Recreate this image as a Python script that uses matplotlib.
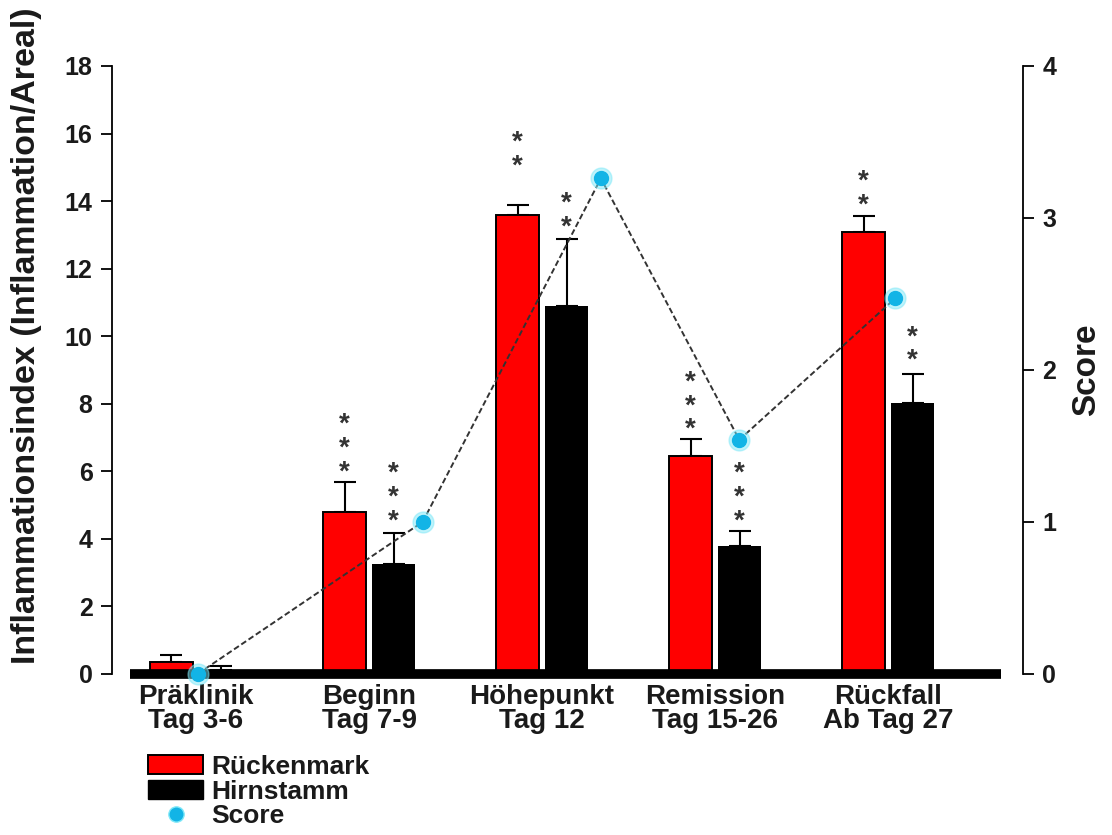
import numpy as np
import matplotlib.pyplot as plt
from matplotlib.patches import Patch
from matplotlib.lines import Line2D

plt.rcParams['font.family'] = ['Liberation Sans', 'DejaVu Sans']
plt.rcParams['font.weight'] = 'bold'

# phases of the disease course
phases = ['Präklinik\nTag 3-6', 'Beginn\nTag 7-9', 'Höhepunkt\nTag 12',
          'Remission\nTag 15-26', 'Rückfall\nAb Tag 27']

# inflammation index, spinal cord (Rückenmark) and brain stem (Hirnstamm)
rm_mean = [0.35, 4.8, 13.6, 6.45, 13.07]
rm_err = [0.22, 0.87, 0.27, 0.5, 0.48]
hs_mean = [0.12, 3.25, 10.9, 3.79, 8.02]
hs_err = [0.1, 0.92, 1.97, 0.44, 0.85]

# significance stars: count and height of the lowest star
rm_stars = [0, 3, 2, 3, 2]
rm_star_y = [0, 6.05, 15.1, 7.3, 13.95]
hs_stars = [0, 3, 2, 3, 2]
hs_star_y = [0, 4.6, 13.3, 4.6, 9.35]

# clinical score, plotted on the right axis
score_x = [0.01, 1.31, 2.34, 3.14, 4.04]
score = [0.0, 1.0, 3.26, 1.54, 2.47]

x = np.arange(len(phases))
w = 0.245
off = 0.142
ink = '#1a1a1a'

fig = plt.figure(figsize=(11.12, 8.35), dpi=100)
ax = fig.add_axes([0.1007, 0.193, 0.8193, 0.728])

ax.bar(x - off, rm_mean, w, color='#ff0000', edgecolor='black', linewidth=1.4, zorder=2)
ax.bar(x + off, hs_mean, w, color='black', edgecolor='black', linewidth=0, zorder=2)
ax.errorbar(x - off, rm_mean, yerr=[np.zeros(5), rm_err], fmt='none', ecolor='black',
            elinewidth=1.5, capsize=8, capthick=1.5, zorder=1)
ax.errorbar(x + off, hs_mean, yerr=[np.zeros(5), hs_err], fmt='none', ecolor='black',
            elinewidth=1.5, capsize=8, capthick=1.5, zorder=1)

for xs, counts, ys in [(x - off, rm_stars, rm_star_y), (x + off, hs_stars, hs_star_y)]:
    for xi, n, yi in zip(xs, counts, ys):
        for k in range(n):
            ax.annotate('*', (xi, yi), xytext=(0, 17 * k - 2), textcoords='offset points',
                        ha='center', va='center', fontsize=20, fontweight='bold',
                        color='#333333')

# thick base line under the bars
ax.plot([-0.38, 4.65], [0, 0], color='black', lw=7, solid_capstyle='butt', zorder=3,
        clip_on=False)

ax.set_xlim(-0.486, 4.78)
ax.set_ylim(0, 18)
ax.set_yticks(np.arange(0, 19, 2))
ax.set_xticks(x)
ax.set_xticklabels(phases, fontsize=20, linespacing=0.92, color=ink)
ax.tick_params(axis='x', length=0, pad=7)
ax.tick_params(axis='y', length=8, width=1.3, labelsize=18, labelcolor=ink, pad=6)
for s in ['top', 'right', 'bottom']:
    ax.spines[s].set_visible(False)
ax.spines['left'].set_linewidth(1.3)
ax.set_ylabel('Inflammationsindex (Inflammation/Areal)', fontsize=24.5, fontweight='bold',
              color=ink)
ax.yaxis.set_label_coords(-0.077, 0.557)

ax2 = ax.twinx()
ax2.plot(score_x, score, linestyle=(0, (3, 1.5)), color='#333333', lw=1.4, zorder=4,
         clip_on=False)
ax2.plot(score_x, score, 'o', ms=15, color='#7fe8f8', alpha=0.5, zorder=5, clip_on=False)
ax2.plot(score_x, score, 'o', ms=10, color='#12b4e6', zorder=6, clip_on=False)
ax2.set_ylim(0, 4)
ax2.set_yticks(range(5))
ax2.tick_params(axis='y', length=8, width=1.3, labelsize=18, labelcolor=ink, pad=6)
for s in ['top', 'left', 'bottom']:
    ax2.spines[s].set_visible(False)
ax2.spines['right'].set_linewidth(1.3)
ax2.set_ylabel('Score', fontsize=24, fontweight='bold', color=ink)
ax2.yaxis.set_label_coords(1.053, 0.5)

handles = [Patch(facecolor='#ff0000', edgecolor='black', linewidth=1.4),
           Patch(facecolor='black', edgecolor='black'),
           Line2D([], [], marker='o', ms=11, color='#12b4e6', markeredgecolor='#7fe8f8',
                  linestyle='none')]
fig.legend(handles, ['Rückenmark', 'Hirnstamm', 'Score'], loc='upper left',
           bbox_to_anchor=(148 / 1112, 1 - 755 / 835), frameon=False, fontsize=19,
           handlelength=2.1, handleheight=0.72, handletextpad=0.3, labelspacing=0.02,
           borderpad=0, borderaxespad=0, labelcolor=ink)

fig.savefig('out.png', dpi=100)
